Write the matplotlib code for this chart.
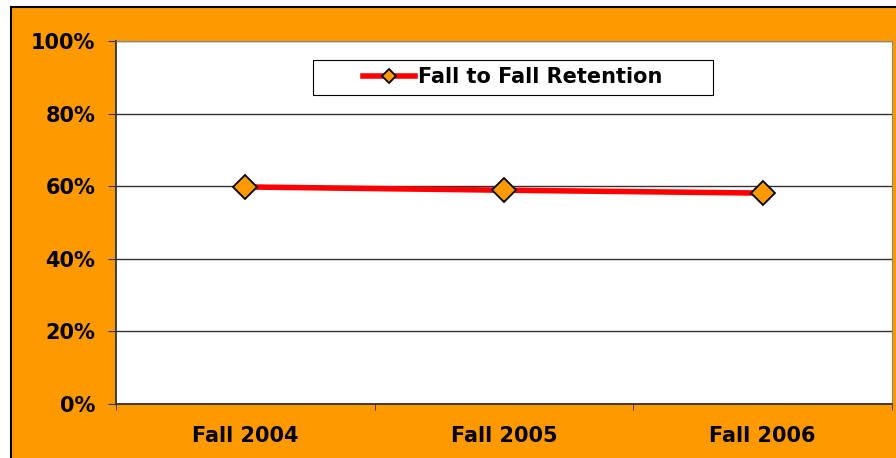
import matplotlib.pyplot as plt
from matplotlib.patches import Rectangle
from matplotlib.ticker import FixedLocator, PercentFormatter

ORANGE = '#FF9900'

years = ['Fall 2004', 'Fall 2005', 'Fall 2006']
retention = [59.8, 58.9, 58.1]
series_name = 'Fall to Fall Retention'

fig = plt.figure(figsize=(8.96, 4.58), dpi=100)
fig.patch.set_facecolor('white')
# orange chart area with black border (left and top edges visible)
fig.add_artist(Rectangle((11 / 896, -0.05), 1, 1.05 - 7 / 458, transform=fig.transFigure,
                         facecolor=ORANGE, edgecolor='black', linewidth=1.5, zorder=-1))

ax = fig.add_axes([116 / 896, 1 - 404 / 458, 776 / 896, 363 / 458])
ax.set_zorder(1)
ax.set_facecolor('white')

x = range(len(years))
ax.plot(x, retention, color='#FF0000', linewidth=4, marker='D', markersize=12.5,
        markerfacecolor=ORANGE, markeredgecolor='black', markeredgewidth=1.3,
        label=series_name, zorder=3)

ax.set_xlim(-0.5, len(years) - 0.5)
ax.set_ylim(0, 100)
ax.set_yticks(range(0, 101, 20))
ax.yaxis.set_major_formatter(PercentFormatter(decimals=0))
ax.set_xticks(list(x))
ax.set_xticklabels(years)
ax.xaxis.set_minor_locator(FixedLocator([i - 0.5 for i in range(len(years) + 1)]))
ax.tick_params(axis='x', which='major', length=0, pad=16)
ax.tick_params(axis='x', which='minor', length=4.5, direction='out', color='#333333')
ax.tick_params(axis='y', length=6, direction='out', color='#333333', pad=9)
for lbl in ax.get_xticklabels() + ax.get_yticklabels():
    lbl.set_fontweight('bold')
    lbl.set_fontsize(15)

ax.grid(axis='y', color='#333333', linewidth=1)
ax.set_axisbelow(True)
for side in ['top', 'right']:
    ax.spines[side].set_color('#888888')
for side in ['left', 'bottom']:
    ax.spines[side].set_color('#333333')
    ax.spines[side].set_linewidth(1.3)

# legend box drawn separately so the entry sits centred with wide side padding
bx0, bx1 = (313 - 116) / 776, (713 - 116) / 776
by0, by1 = (404 - 95) / 363, (404 - 60) / 363
ax.add_patch(Rectangle((bx0, by0), bx1 - bx0, by1 - by0, transform=ax.transAxes,
                       facecolor='white', edgecolor='black', linewidth=0.8, zorder=4))
leg = ax.legend(loc='center', bbox_to_anchor=((bx0 + bx1) / 2, (by0 + by1) / 2),
                frameon=False, prop={'weight': 'bold', 'size': 15},
                handlelength=2.5, handletextpad=0.15, borderpad=0, markerscale=0.6)
leg.set_zorder(5)

fig.savefig('out.png', dpi=100)
